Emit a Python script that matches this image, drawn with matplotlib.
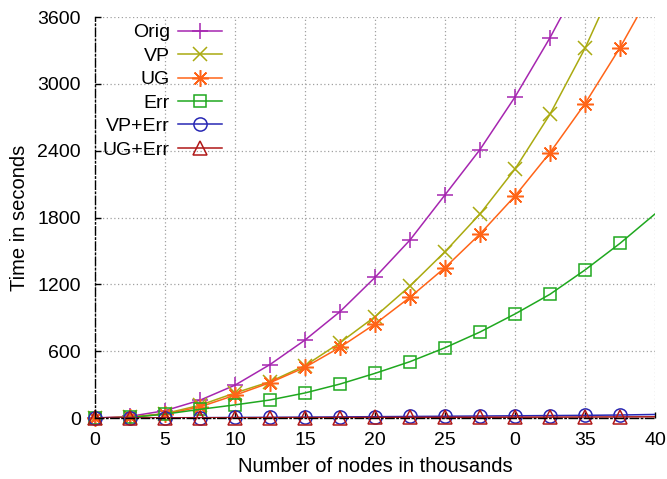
import numpy as np
import matplotlib
matplotlib.use("Agg")
import matplotlib.pyplot as plt

# thousands of nodes; markers up to 37.5, lines run on to 40
nodes = [0, 2.5, 5, 7.5, 10, 12.5, 15, 17.5, 20, 22.5, 25, 27.5, 30, 32.5, 35, 37.5, 40]

orig = [0, 15, 66, 160, 295, 480, 700, 955, 1262, 1598, 2003, 2410, 2882, 3414, 4000, 4620, 5280]
vp = [0, 8, 40, 115, 225, 326, 470, 676, 910, 1185, 1493, 1832, 2235, 2727, 3319, 4010, 4800]
ug = [0, 7, 35, 100, 205, 317, 455, 635, 844, 1084, 1350, 1652, 1993, 2382, 2822, 3325, 3885]
err = [0, 5, 35, 78, 118, 162, 225, 305, 401, 506, 631, 772, 934, 1111, 1329, 1568, 1832]
vp_err = [0, 1, 2, 3, 5, 6, 8, 10, 12, 14, 16, 18, 20, 22, 24, 27, 32]
ug_err = [0, 0.5, 1, 1.5, 2, 3, 3.5, 4, 5, 5.5, 6, 7, 7.5, 8, 9, 10, 11]

xticks = [0, 5, 10, 15, 20, 25, 30, 35, 40]
xticklabels = ["0", "5", "10", "15", "20", "25", "0", "35", "40"]
yticks = [0, 600, 1200, 1800, 2400, 3000, 3600]
ymax = 3600

series = [
    ("Orig", orig, "#a626b0", "+", 11),
    ("VP", vp, "#aaaa10", "x", 10),
    ("UG", ug, "#ff6418", (8, 2, 0), 12),
    ("Err", err, "#1fa81f", "s", 9),
    ("VP+Err", vp_err, "#2828b4", "o", 9.5),
    ("UG+Err", ug_err, "#b01818", "^", 9.5),
]

plt.rcParams["font.family"] = ["Liberation Sans", "DejaVu Sans"]
plt.rcParams["font.size"] = 14

fig = plt.figure(figsize=(6.67, 4.79), dpi=100)
ax = fig.add_axes([0.1424, 0.1273, 0.8396, 0.8372])

handles = []
labels = []
for label, vals, col, mk, ms in series:
    vals = np.array(vals, dtype=float)
    (ln,) = ax.plot(nodes, vals, color=col, linewidth=1.1)
    # markers only at measured points (not the line end at 40) and inside the y range
    mvals = np.ma.masked_greater(vals[:-1], ymax)
    (mk_art,) = ax.plot(
        nodes[:-1],
        mvals,
        linestyle="",
        marker=mk,
        markersize=ms,
        markerfacecolor="none",
        markeredgecolor=col,
        markeredgewidth=1.1,
        clip_on=False,
    )
    handles.append((ln, mk_art))
    labels.append(label)

ax.set_xlim(0, 40)
ax.set_ylim(0, ymax)
ax.set_xticks(xticks)
ax.set_xticklabels(xticklabels)
ax.set_yticks(yticks)
ax.grid(True, color="#a0a0a0", linestyle=(0, (1, 2)), linewidth=0.9)
ax.tick_params(direction="in", length=4, width=1, labelsize=14)
ax.tick_params(axis="x", pad=10)
ax.tick_params(axis="y", pad=10)

for side in ["top", "right"]:
    ax.spines[side].set_visible(False)
for side in ["left", "bottom"]:
    ax.spines[side].set_linestyle((0, (6, 2, 1, 2)))
    ax.spines[side].set_linewidth(1.0)
    ax.spines[side].set_color("black")

ax.set_xlabel("Number of nodes in thousands", fontsize=14.5, labelpad=6)
ax.set_ylabel("Time in seconds", fontsize=14.5, labelpad=6)

leg = ax.legend(
    handles,
    labels,
    loc="upper left",
    bbox_to_anchor=(0.014, 0.983),
    frameon=False,
    markerfirst=False,
    handlelength=2.3,
    handletextpad=0.4,
    labelspacing=0.3,
    borderpad=0.0,
    borderaxespad=0.0,
    fontsize=14,
)
# right-align the legend rows so text ends at the sample lines
col_box = leg._legend_box._children[-1]._children[0]
col_box.align = "right"

fig.savefig("out.png", dpi=100)
